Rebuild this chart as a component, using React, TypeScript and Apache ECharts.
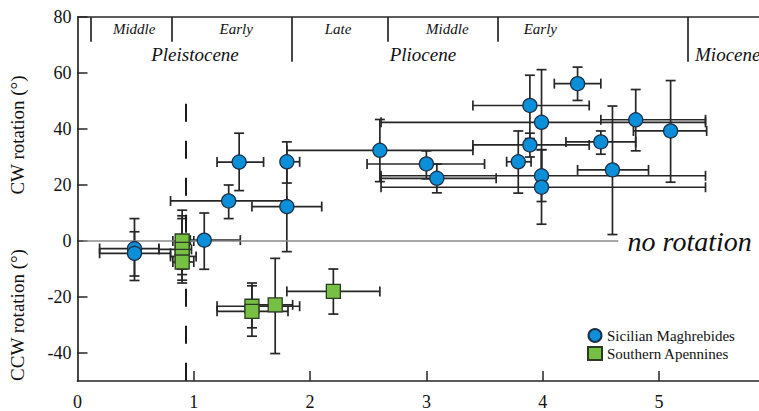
import React, { useEffect, useRef } from "react";
import * as echarts from "echarts";

// [x, y, xLow, xHigh, yLow, yHigh]
const sicilian: number[][] = [
  [0.49, -2.7, 0.19, 0.7, -12.5, 8.0],
  [0.49, -4.4, 0.19, 0.8, -14.1, 3.3],
  [1.09, 0.3, 0.97, 1.4, -10.1, 10.0],
  [1.3, 14.3, 0.8, 1.8, 8.0, 20.0],
  [1.39, 28.2, 1.2, 1.6, 18.0, 38.5],
  [1.8, 28.3, 1.76, 1.91, 20.7, 35.4],
  [1.8, 12.3, 1.5, 2.1, -3.8, 28.0],
  [2.6, 32.4, 1.8, 3.4, 21.2, 43.4],
  [3.0, 27.5, 2.49, 3.5, 22.2, 32.2],
  [3.09, 22.4, 2.61, 3.6, 17.2, 27.5],
  [3.79, 28.3, 3.69, 3.9, 17.1, 39.3],
  [3.89, 48.4, 3.4, 4.4, 36.6, 59.2],
  [3.89, 34.3, 3.4, 4.4, 30.0, 38.5],
  [3.99, 42.4, 2.61, 5.4, 23.4, 61.2],
  [3.99, 23.3, 2.61, 5.4, 14.1, 32.6],
  [3.99, 19.2, 2.61, 5.4, 6.0, 32.6],
  [4.3, 56.2, 4.1, 4.5, 50.2, 62.1],
  [4.5, 35.4, 4.2, 4.8, 31.0, 39.3],
  [4.6, 25.4, 4.3, 4.91, 2.3, 48.2],
  [4.8, 43.3, 4.5, 5.4, 32.2, 54.1],
  [5.1, 39.3, 4.78, 5.41, 21.0, 57.3],
];

const apennines: number[][] = [
  [0.9, 0.0, 0.82, 1.0, -10, 11],
  [0.9, -3.0, 0.7, 0.98, -12, 9],
  [0.9, -5.5, 0.8, 1.02, -14, 8],
  [0.9, -7.5, 0.82, 1.0, -15, 2],
  [1.5, -23.3, 1.2, 1.91, -34, -15],
  [1.5, -25.1, 1.2, 1.81, -31, -16],
  [1.7, -22.8, 1.55, 1.85, -40.2, -6.2],
  [2.2, -18.0, 1.8, 2.6, -26.1, -10.0],
];

const seriesNames = ["Sicilian Maghrebides", "Southern Apennines"];

// geologic time scale
const boundaries = [0.11, 0.81, 1.84, 2.67, 3.61, 5.25];
const boundaryLong = [false, false, true, false, false, true];
const stageNames = ["Middle", "Early", "Late", "Middle", "Early"];
const stageX = [0.487, 1.364, 2.24, 3.18, 3.98];
const epochNames = ["Pleistocene", "Pliocene", "Miocene"];
const epochX = [1.01, 2.97, 5.31];
const epochAlign = ["center", "center", "left"];

const xTickValues = [1, 2, 3, 4, 5];
const xLabelValues = [0, 1, 2, 3, 4, 5];
const yTickValues = [-40, -20, 0, 20, 40, 60, 80];

const X_MIN = 0;
const X_MAX = 5.86;
const Y_MIN = -50;
const Y_MAX = 80;
const QUATERNARY_LINE_X = 0.93;
const QUATERNARY_LINE_TOP = 49;
const ZERO_LINE = [0.05, 4.65];
const NO_ROT_X = 4.73;

const SERIF = "Liberation Serif";
const INK = "#262626";

function errorBarItem(params: any, api: any) {
  const x = api.value(0);
  const y = api.value(1);
  const xl = api.value(2);
  const xh = api.value(3);
  const yl = api.value(4);
  const yh = api.value(5);
  const l = api.coord([xl, y]);
  const r = api.coord([xh, y]);
  const b = api.coord([x, yl]);
  const t = api.coord([x, yh]);
  const cap = 5;
  const style = { stroke: INK, lineWidth: 1.7 };
  const ln = (x1: number, y1: number, x2: number, y2: number) => ({
    type: "line",
    shape: { x1, y1, x2, y2 },
    style,
  });
  return {
    type: "group",
    children: [
      ln(l[0], l[1], r[0], r[1]),
      ln(l[0], l[1] - cap, l[0], l[1] + cap),
      ln(r[0], r[1] - cap, r[0], r[1] + cap),
      ln(b[0], b[1], t[0], t[1]),
      ln(b[0] - cap, b[1], b[0] + cap, b[1]),
      ln(t[0] - cap, t[1], t[0] + cap, t[1]),
    ],
  };
}

export default function App() {
  const ref = useRef<HTMLDivElement>(null);

  useEffect(() => {
    if (!ref.current) return;
    const chart = echarts.init(ref.current, null, { renderer: "svg" });

    const periodLines = boundaries.map((bx, i) => [
      { coord: [bx, Y_MAX] },
      { coord: [bx, boundaryLong[i] ? 64 : 71.2] },
    ]);

    const textData = [
      ...stageNames.map((n, i) => [stageX[i], 75.6, i, 0]),
      ...epochNames.map((n, i) => [epochX[i], 66.6, i, 1]),
      [NO_ROT_X, 0, 0, 2],
    ];

    const option: any = {
      animation: false,
      backgroundColor: "#ffffff",
      grid: { left: 77.5, right: 0, top: 17, bottom: 27.5, containLabel: false },
      xAxis: {
        type: "value",
        min: X_MIN,
        max: X_MAX,
        axisLine: { show: true, onZero: false, lineStyle: { color: INK, width: 1.7 } },
        axisTick: {
          show: true,
          inside: true,
          length: 10,
          customValues: xTickValues,
          lineStyle: { color: INK, width: 1.5 },
        },
        axisLabel: {
          customValues: xLabelValues,
          fontFamily: SERIF,
          fontSize: 18,
          color: "#111",
          margin: 12,
        },
        splitLine: { show: false },
      },
      yAxis: {
        type: "value",
        min: Y_MIN,
        max: Y_MAX,
        axisLine: { show: true, onZero: false, lineStyle: { color: INK, width: 1.7 } },
        axisTick: {
          show: true,
          inside: true,
          length: 10,
          customValues: yTickValues,
          lineStyle: { color: INK, width: 1.5 },
        },
        axisLabel: {
          customValues: yTickValues,
          fontFamily: SERIF,
          fontSize: 18,
          color: "#111",
          margin: 6,
        },
        splitLine: { show: false },
      },
      legend: {
        orient: "vertical",
        left: 582,
        top: 323,
        itemWidth: 14,
        itemHeight: 13,
        itemGap: 3,
        data: seriesNames,
        textStyle: { fontFamily: SERIF, fontSize: 15, color: "#111" },
      },
      graphic: [
        {
          type: "text",
          x: 17,
          y: 135,
          rotation: Math.PI / 2,
          style: {
            text: "CW rotation (°)",
            fontFamily: SERIF,
            fontSize: 19,
            fill: "#111",
            textAlign: "center",
            textVerticalAlign: "middle",
          },
        },
        {
          type: "text",
          x: 17,
          y: 315,
          rotation: Math.PI / 2,
          style: {
            text: "CCW rotation (°)",
            fontFamily: SERIF,
            fontSize: 19,
            fill: "#111",
            textAlign: "center",
            textVerticalAlign: "middle",
          },
        },
      ],
      series: [
        {
          type: "custom",
          name: "reference lines",
          silent: true,
          z: 1,
          data: [],
          renderItem: () => null,
          markLine: {
            silent: true,
            symbol: "none",
            label: { show: false },
            animation: false,
            data: [
              [
                { coord: [X_MIN, Y_MAX], lineStyle: { color: INK, width: 1.7, type: "solid" } },
                { coord: [X_MAX, Y_MAX] },
              ],
              [
                { coord: [ZERO_LINE[0], 0], lineStyle: { color: "#8a8a8a", width: 1.5, type: "solid" } },
                { coord: [ZERO_LINE[1], 0] },
              ],
              [
                {
                  coord: [QUATERNARY_LINE_X, QUATERNARY_LINE_TOP],
                  lineStyle: { color: "#1a1a1a", width: 2, type: [18, 19] },
                },
                { coord: [QUATERNARY_LINE_X, Y_MIN] },
              ],
              ...periodLines.map((p) => [
                { ...p[0], lineStyle: { color: INK, width: 1.7, type: "solid" } },
                p[1],
              ]),
            ],
          },
        },
        {
          type: "custom",
          name: "labels",
          silent: true,
          z: 2,
          encode: { x: 0, y: 1 },
          data: textData,
          renderItem: (params: any, api: any) => {
            const kind = api.value(3);
            const idx = api.value(2);
            const p = api.coord([api.value(0), api.value(1)]);
            let text = "";
            let size = 15;
            let align = "center";
            if (kind === 0) {
              text = stageNames[idx];
              size = 15;
            } else if (kind === 1) {
              text = epochNames[idx];
              size = 19;
              align = epochAlign[idx];
            } else {
              text = "no rotation";
              size = 28;
              align = "left";
            }
            return {
              type: "text",
              x: p[0],
              y: p[1],
              style: {
                text,
                fontFamily: SERIF,
                fontStyle: "italic",
                fontSize: size,
                fill: "#111",
                textAlign: align,
                textVerticalAlign: "middle",
              },
            };
          },
        },
        {
          type: "custom",
          name: "err-sicilian",
          silent: true,
          z: 3,
          encode: { x: 0, y: 1 },
          data: sicilian,
          renderItem: errorBarItem,
        },
        {
          type: "custom",
          name: "err-apennines",
          silent: true,
          z: 3,
          encode: { x: 0, y: 1 },
          data: apennines,
          renderItem: errorBarItem,
        },
        {
          type: "scatter",
          name: seriesNames[0],
          z: 5,
          symbol: "circle",
          symbolSize: 14,
          data: sicilian.map((d) => [d[0], d[1]]),
          itemStyle: { color: "#0b8fd8", borderColor: "#1c2f44", borderWidth: 1.3, opacity: 1 },
        },
        {
          type: "scatter",
          name: seriesNames[1],
          z: 5,
          symbol: "rect",
          symbolSize: 14,
          data: apennines.map((d) => [d[0], d[1]]),
          itemStyle: { color: "#76c043", borderColor: "#2d3a22", borderWidth: 1.3, opacity: 1 },
        },
      ],
    };

    chart.setOption(option);
    return () => chart.dispose();
  }, []);

  return (
    <div
      ref={ref}
      style={{ position: "fixed", left: 0, top: 0, width: 759, height: 411, background: "#fff" }}
    />
  );
}
